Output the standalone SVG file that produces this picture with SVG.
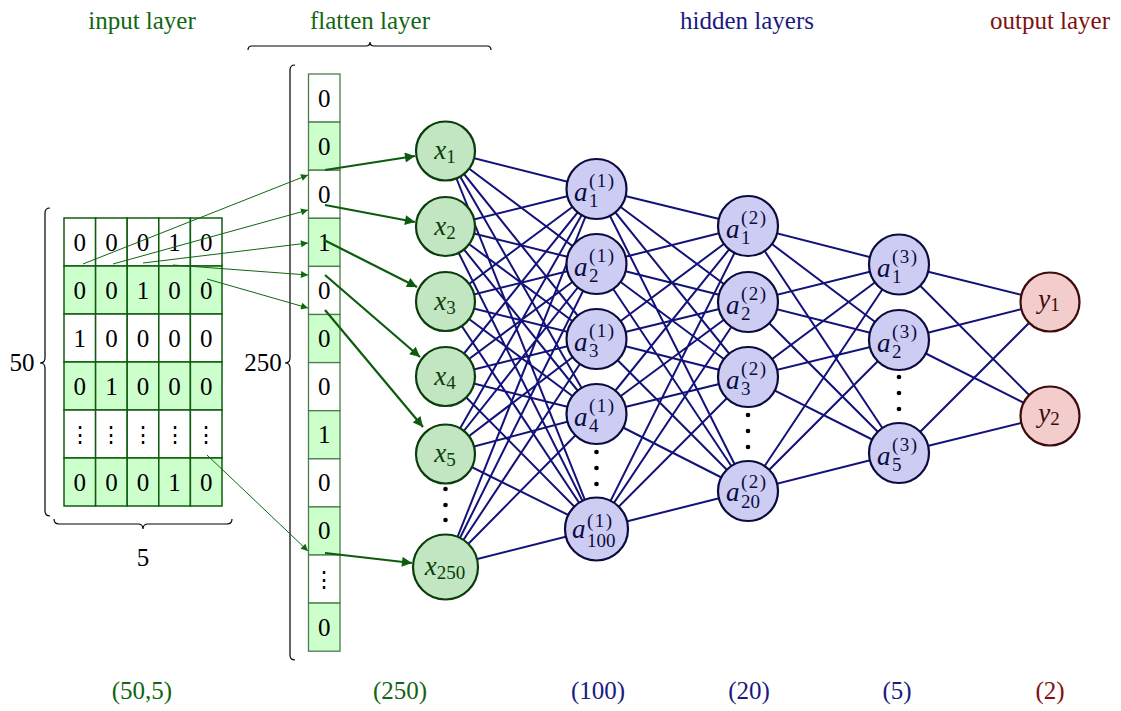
<svg xmlns="http://www.w3.org/2000/svg" width="1121" height="711" viewBox="0 0 1121 711">
<style>
.cell{stroke:#0f5c0f;stroke-width:1.5}
.fcell{stroke:#4a7d4a;stroke-width:1.3}
.g{fill:#ccffcc}
.w{fill:#ffffff}
.num{font-family:'Liberation Serif','Times New Roman','DejaVu Serif',serif;font-size:25px;text-anchor:middle;fill:#000}
.vd{font-family:'DejaVu Serif',serif;font-size:22px}
.title{font-family:'Liberation Serif','Times New Roman','DejaVu Serif',serif;font-size:25px;text-anchor:middle}
.bot{font-family:'Liberation Serif','Times New Roman','DejaVu Serif',serif;font-size:25px;text-anchor:middle}
.brace{fill:none;stroke:#000;stroke-width:1.2}
.edge{stroke:#12127a;stroke-width:2;fill:none}
.xn{fill:#c1e6c1;stroke:#0b3d0b;stroke-width:2.2}
.an{fill:#cdcdf4;stroke:#0b0b40;stroke-width:2.2}
.yn{fill:#f3cccc;stroke:#3d0b0b;stroke-width:2.2}
.lbl{font-family:'Liberation Serif','Times New Roman','DejaVu Serif',serif;font-style:italic;font-size:27px}
.sm{font-family:'Liberation Serif','Times New Roman','DejaVu Serif',serif;font-style:normal;font-size:19px}
.sup{letter-spacing:1.5px}
.xt{fill:#0b3d0b}
.at{fill:#0b0b40}
.yt{fill:#3d0b0b}
.thin{stroke:#116611;stroke-width:1;fill:none}
.thick{stroke:#0d5c0d;stroke-width:2.2;fill:none}
.dot{fill:#000}
</style>
<defs>
<marker id="ahs" viewBox="0 0 10 10" refX="10" refY="5" markerWidth="9" markerHeight="7" markerUnits="userSpaceOnUse" orient="auto"><path d="M0,0 L10,5 L0,10 z" fill="#116611"/></marker>
<marker id="ahl" viewBox="0 0 10 10" refX="10" refY="5" markerWidth="13" markerHeight="10" markerUnits="userSpaceOnUse" orient="auto"><path d="M0,0 L10,5 L0,10 z" fill="#0d5c0d"/></marker>
</defs>

<g id="titles">
<text class="title" x="142" y="29" fill="#116611">input layer</text>
<text class="title" x="370" y="29" fill="#116611">flatten layer</text>
<text class="title" x="747" y="29" fill="#1a1a80">hidden layers</text>
<text class="title" x="1050" y="29" fill="#801010">output layer</text>
</g>

<g id="bottom-labels">
<text class="bot" x="142" y="699" fill="#116611">(50,5)</text>
<text class="bot" x="400" y="699" fill="#116611">(250)</text>
<text class="bot" x="598" y="699" fill="#1a1a80">(100)</text>
<text class="bot" x="749" y="699" fill="#1a1a80">(20)</text>
<text class="bot" x="897" y="699" fill="#1a1a80">(5)</text>
<text class="bot" x="1050" y="699" fill="#801010">(2)</text>
</g>

<g id="input-grid">
<rect class="cell w" x="64" y="218" width="31.6" height="48"/><rect class="cell w" x="95.6" y="218" width="31.6" height="48"/><rect class="cell w" x="127.2" y="218" width="31.6" height="48"/><rect class="cell w" x="158.8" y="218" width="31.6" height="48"/><rect class="cell w" x="190.4" y="218" width="31.6" height="48"/>
<rect class="cell g" x="64" y="266" width="31.6" height="48"/><rect class="cell g" x="95.6" y="266" width="31.6" height="48"/><rect class="cell g" x="127.2" y="266" width="31.6" height="48"/><rect class="cell g" x="158.8" y="266" width="31.6" height="48"/><rect class="cell g" x="190.4" y="266" width="31.6" height="48"/>
<rect class="cell w" x="64" y="314" width="31.6" height="48"/><rect class="cell w" x="95.6" y="314" width="31.6" height="48"/><rect class="cell w" x="127.2" y="314" width="31.6" height="48"/><rect class="cell w" x="158.8" y="314" width="31.6" height="48"/><rect class="cell w" x="190.4" y="314" width="31.6" height="48"/>
<rect class="cell g" x="64" y="362" width="31.6" height="48"/><rect class="cell g" x="95.6" y="362" width="31.6" height="48"/><rect class="cell g" x="127.2" y="362" width="31.6" height="48"/><rect class="cell g" x="158.8" y="362" width="31.6" height="48"/><rect class="cell g" x="190.4" y="362" width="31.6" height="48"/>
<rect class="cell w" x="64" y="410" width="31.6" height="48"/><rect class="cell w" x="95.6" y="410" width="31.6" height="48"/><rect class="cell w" x="127.2" y="410" width="31.6" height="48"/><rect class="cell w" x="158.8" y="410" width="31.6" height="48"/><rect class="cell w" x="190.4" y="410" width="31.6" height="48"/>
<rect class="cell g" x="64" y="458" width="31.6" height="48"/><rect class="cell g" x="95.6" y="458" width="31.6" height="48"/><rect class="cell g" x="127.2" y="458" width="31.6" height="48"/><rect class="cell g" x="158.8" y="458" width="31.6" height="48"/><rect class="cell g" x="190.4" y="458" width="31.6" height="48"/>
<text class="num" x="79.8" y="250.5">0</text><text class="num" x="111.4" y="250.5">0</text><text class="num" x="143" y="250.5">0</text><text class="num" x="174.6" y="250.5">1</text><text class="num" x="206.2" y="250.5">0</text>
<text class="num" x="79.8" y="298.5">0</text><text class="num" x="111.4" y="298.5">0</text><text class="num" x="143" y="298.5">1</text><text class="num" x="174.6" y="298.5">0</text><text class="num" x="206.2" y="298.5">0</text>
<text class="num" x="79.8" y="346.5">1</text><text class="num" x="111.4" y="346.5">0</text><text class="num" x="143" y="346.5">0</text><text class="num" x="174.6" y="346.5">0</text><text class="num" x="206.2" y="346.5">0</text>
<text class="num" x="79.8" y="394.5">0</text><text class="num" x="111.4" y="394.5">1</text><text class="num" x="143" y="394.5">0</text><text class="num" x="174.6" y="394.5">0</text><text class="num" x="206.2" y="394.5">0</text>
<text class="num vd" x="79.8" y="442">⋮</text><text class="num vd" x="111.4" y="442">⋮</text><text class="num vd" x="143" y="442">⋮</text><text class="num vd" x="174.6" y="442">⋮</text><text class="num vd" x="206.2" y="442">⋮</text>
<text class="num" x="79.8" y="490.5">0</text><text class="num" x="111.4" y="490.5">0</text><text class="num" x="143" y="490.5">0</text><text class="num" x="174.6" y="490.5">1</text><text class="num" x="206.2" y="490.5">0</text>
<path class="brace" d="M50,208 Q45,208 45,213 L45,358 Q45,363 40,363 Q45,363 45,368 L45,511 Q45,516 50,516"/>
<text class="num" x="22" y="371">50</text>
<path class="brace" d="M54,519 Q54,524 59,524 L138,524 Q143,524 143,529 Q143,524 148,524 L227,524 Q232,524 232,519"/>
<text class="num" x="143" y="566">5</text>
</g>

<g id="flatten-column">
<rect class="fcell w" x="308.5" y="74" width="31.5" height="48.1"/>
<rect class="fcell g" x="308.5" y="122.1" width="31.5" height="48.1"/>
<rect class="fcell w" x="308.5" y="170.2" width="31.5" height="48.1"/>
<rect class="fcell g" x="308.5" y="218.3" width="31.5" height="48.1"/>
<rect class="fcell w" x="308.5" y="266.4" width="31.5" height="48.1"/>
<rect class="fcell g" x="308.5" y="314.5" width="31.5" height="48.1"/>
<rect class="fcell w" x="308.5" y="362.6" width="31.5" height="48.1"/>
<rect class="fcell g" x="308.5" y="410.7" width="31.5" height="48.1"/>
<rect class="fcell w" x="308.5" y="458.8" width="31.5" height="48.1"/>
<rect class="fcell g" x="308.5" y="506.9" width="31.5" height="48.1"/>
<rect class="fcell w" x="308.5" y="555" width="31.5" height="48.1"/>
<rect class="fcell g" x="308.5" y="603.1" width="31.5" height="48.1"/>
<text class="num" x="324.2" y="106.5">0</text>
<text class="num" x="324.2" y="154.6">0</text>
<text class="num" x="324.2" y="202.7">0</text>
<text class="num" x="324.2" y="250.8">1</text>
<text class="num" x="324.2" y="298.9">0</text>
<text class="num" x="324.2" y="347">0</text>
<text class="num" x="324.2" y="395.1">0</text>
<text class="num" x="324.2" y="443.2">1</text>
<text class="num" x="324.2" y="491.3">0</text>
<text class="num" x="324.2" y="539.4">0</text>
<text class="num vd" x="324.2" y="587">⋮</text>
<text class="num" x="324.2" y="635.6">0</text>
<path class="brace" d="M295,65 Q290,65 290,70 L290,358 Q290,363 285,363 Q290,363 290,368 L290,655 Q290,660 295,660"/>
<text class="num" x="263" y="371">250</text>
<path class="brace" d="M248,50 Q248,46 252,46 L366,46 Q370,46 370,42 Q370,46 374,46 L487,46 Q491,46 491,50"/>
</g>

<g id="connectors">
<g id="grid-to-flatten">
<line class="thin" x1="83" y1="264" x2="308" y2="175" marker-end="url(#ahs)"/>
<line class="thin" x1="113" y1="264" x2="308" y2="210" marker-end="url(#ahs)"/>
<line class="thin" x1="143" y1="263" x2="308" y2="243" marker-end="url(#ahs)"/>
<line class="thin" x1="173" y1="265" x2="308" y2="275" marker-end="url(#ahs)"/>
<line class="thin" x1="207" y1="279" x2="308" y2="308" marker-end="url(#ahs)"/>
<line class="thin" x1="207" y1="455" x2="308" y2="551" marker-end="url(#ahs)"/>
</g>
<g id="flatten-to-input">
<line class="thick" x1="325" y1="170" x2="415" y2="156" marker-end="url(#ahl)"/>
<line class="thick" x1="325" y1="205" x2="415" y2="222" marker-end="url(#ahl)"/>
<line class="thick" x1="324" y1="240" x2="417" y2="287" marker-end="url(#ahl)"/>
<line class="thick" x1="325" y1="275" x2="420" y2="357" marker-end="url(#ahl)"/>
<line class="thick" x1="325" y1="310" x2="423" y2="427" marker-end="url(#ahl)"/>
<line class="thick" x1="325" y1="553" x2="412" y2="563" marker-end="url(#ahl)"/>
</g>
<g id="x-to-a1">
<path class="edge" d="M445.5,151L596.5,189M445.5,151L596.5,264M445.5,151L596.5,339M445.5,151L596.5,414M445.5,151L596.5,529
M445.5,226.5L596.5,189M445.5,226.5L596.5,264M445.5,226.5L596.5,339M445.5,226.5L596.5,414M445.5,226.5L596.5,529
M445.5,301.5L596.5,189M445.5,301.5L596.5,264M445.5,301.5L596.5,339M445.5,301.5L596.5,414M445.5,301.5L596.5,529
M445.5,376.5L596.5,189M445.5,376.5L596.5,264M445.5,376.5L596.5,339M445.5,376.5L596.5,414M445.5,376.5L596.5,529
M445.5,454L596.5,189M445.5,454L596.5,264M445.5,454L596.5,339M445.5,454L596.5,414M445.5,454L596.5,529
M445.5,567L596.5,189M445.5,567L596.5,264M445.5,567L596.5,339M445.5,567L596.5,414M445.5,567L596.5,529"/>
</g>
<g id="a1-to-a2">
<path class="edge" d="M596.5,189L748,226M596.5,189L748,302M596.5,189L748,377M596.5,189L748,491
M596.5,264L748,226M596.5,264L748,302M596.5,264L748,377M596.5,264L748,491
M596.5,339L748,226M596.5,339L748,302M596.5,339L748,377M596.5,339L748,491
M596.5,414L748,226M596.5,414L748,302M596.5,414L748,377M596.5,414L748,491
M596.5,529L748,226M596.5,529L748,302M596.5,529L748,377M596.5,529L748,491"/>
</g>
<g id="a2-to-a3">
<path class="edge" d="M748,226L899,264.5M748,226L899,340M748,226L899,453
M748,302L899,264.5M748,302L899,340M748,302L899,453
M748,377L899,264.5M748,377L899,340M748,377L899,453
M748,491L899,264.5M748,491L899,340M748,491L899,453"/>
</g>
<g id="a3-to-y">
<path class="edge" d="M899,264.5L1050,302M899,264.5L1050,416M899,340L1050,302M899,340L1050,416M899,453L1050,302M899,453L1050,416"/>
</g>
</g>

<g id="x1"><circle class="xn" cx="445.5" cy="151" r="29.5"/><text class="lbl xt" x="445" y="159" text-anchor="middle">x<tspan class="sm" dy="4">1</tspan></text></g>
<g id="x2"><circle class="xn" cx="445.5" cy="226.5" r="29.5"/><text class="lbl xt" x="445" y="234.5" text-anchor="middle">x<tspan class="sm" dy="4">2</tspan></text></g>
<g id="x3"><circle class="xn" cx="445.5" cy="301.5" r="29.5"/><text class="lbl xt" x="445" y="309.5" text-anchor="middle">x<tspan class="sm" dy="4">3</tspan></text></g>
<g id="x4"><circle class="xn" cx="445.5" cy="376.5" r="29.5"/><text class="lbl xt" x="445" y="384.5" text-anchor="middle">x<tspan class="sm" dy="4">4</tspan></text></g>
<g id="x5"><circle class="xn" cx="445.5" cy="454" r="29.5"/><text class="lbl xt" x="445" y="462" text-anchor="middle">x<tspan class="sm" dy="4">5</tspan></text></g>
<g id="x-dots"><circle class="dot" cx="445.5" cy="489" r="2.3"/><circle class="dot" cx="445.5" cy="505" r="2.3"/><circle class="dot" cx="445.5" cy="520" r="2.3"/></g>
<g id="x250"><circle class="xn" cx="445.5" cy="567" r="32.5"/><text class="lbl xt" x="445" y="575" text-anchor="middle">x<tspan class="sm" dy="4">250</tspan></text></g>

<g id="a1_1"><circle class="an" cx="596.5" cy="189" r="30"/><text class="lbl at" x="574" y="201">a</text><text class="sm sup at" x="589" y="187">(1)</text><text class="sm at" x="589" y="207">1</text></g>
<g id="a1_2"><circle class="an" cx="596.5" cy="264" r="30"/><text class="lbl at" x="574" y="276">a</text><text class="sm sup at" x="589" y="262">(1)</text><text class="sm at" x="589" y="282">2</text></g>
<g id="a1_3"><circle class="an" cx="596.5" cy="339" r="30"/><text class="lbl at" x="574" y="351">a</text><text class="sm sup at" x="589" y="337">(1)</text><text class="sm at" x="589" y="357">3</text></g>
<g id="a1_4"><circle class="an" cx="596.5" cy="414" r="30"/><text class="lbl at" x="574" y="426">a</text><text class="sm sup at" x="589" y="412">(1)</text><text class="sm at" x="589" y="432">4</text></g>
<g id="a1-dots"><circle class="dot" cx="596.5" cy="452" r="2.3"/><circle class="dot" cx="596.5" cy="468" r="2.3"/><circle class="dot" cx="596.5" cy="484" r="2.3"/></g>
<g id="a1_100"><circle class="an" cx="596.5" cy="529" r="31.5"/><text class="lbl at" x="572" y="538">a</text><text class="sm sup at" x="587" y="527">(1)</text><text class="sm at" x="587" y="547">100</text></g>

<g id="a2_1"><circle class="an" cx="748" cy="226" r="30"/><text class="lbl at" x="726" y="238">a</text><text class="sm sup at" x="741" y="224">(2)</text><text class="sm at" x="741" y="244">1</text></g>
<g id="a2_2"><circle class="an" cx="748" cy="302" r="30"/><text class="lbl at" x="726" y="314">a</text><text class="sm sup at" x="741" y="300">(2)</text><text class="sm at" x="741" y="320">2</text></g>
<g id="a2_3"><circle class="an" cx="748" cy="377" r="30"/><text class="lbl at" x="726" y="389">a</text><text class="sm sup at" x="741" y="375">(2)</text><text class="sm at" x="741" y="395">3</text></g>
<g id="a2-dots"><circle class="dot" cx="748" cy="415" r="2.3"/><circle class="dot" cx="748" cy="431" r="2.3"/><circle class="dot" cx="748" cy="447" r="2.3"/></g>
<g id="a2_20"><circle class="an" cx="748" cy="491" r="30"/><text class="lbl at" x="726" y="501">a</text><text class="sm sup at" x="741" y="488">(2)</text><text class="sm at" x="741" y="508">20</text></g>

<g id="a3_1"><circle class="an" cx="899" cy="264.5" r="30"/><text class="lbl at" x="877" y="276.5">a</text><text class="sm sup at" x="892" y="262.5">(3)</text><text class="sm at" x="892" y="282.5">1</text></g>
<g id="a3_2"><circle class="an" cx="899" cy="340" r="30"/><text class="lbl at" x="877" y="352">a</text><text class="sm sup at" x="892" y="338">(3)</text><text class="sm at" x="892" y="358">2</text></g>
<g id="a3-dots"><circle class="dot" cx="899" cy="377" r="2.3"/><circle class="dot" cx="899" cy="393" r="2.3"/><circle class="dot" cx="899" cy="409" r="2.3"/></g>
<g id="a3_5"><circle class="an" cx="899" cy="453" r="30"/><text class="lbl at" x="877" y="465">a</text><text class="sm sup at" x="892" y="451">(3)</text><text class="sm at" x="892" y="471">5</text></g>

<g id="y1"><circle class="yn" cx="1050" cy="302" r="29.5"/><text class="lbl yt" x="1049" y="308" text-anchor="middle">y<tspan class="sm" dy="3">1</tspan></text></g>
<g id="y2"><circle class="yn" cx="1050" cy="416" r="29.5"/><text class="lbl yt" x="1049" y="422" text-anchor="middle">y<tspan class="sm" dy="3">2</tspan></text></g>
</svg>
